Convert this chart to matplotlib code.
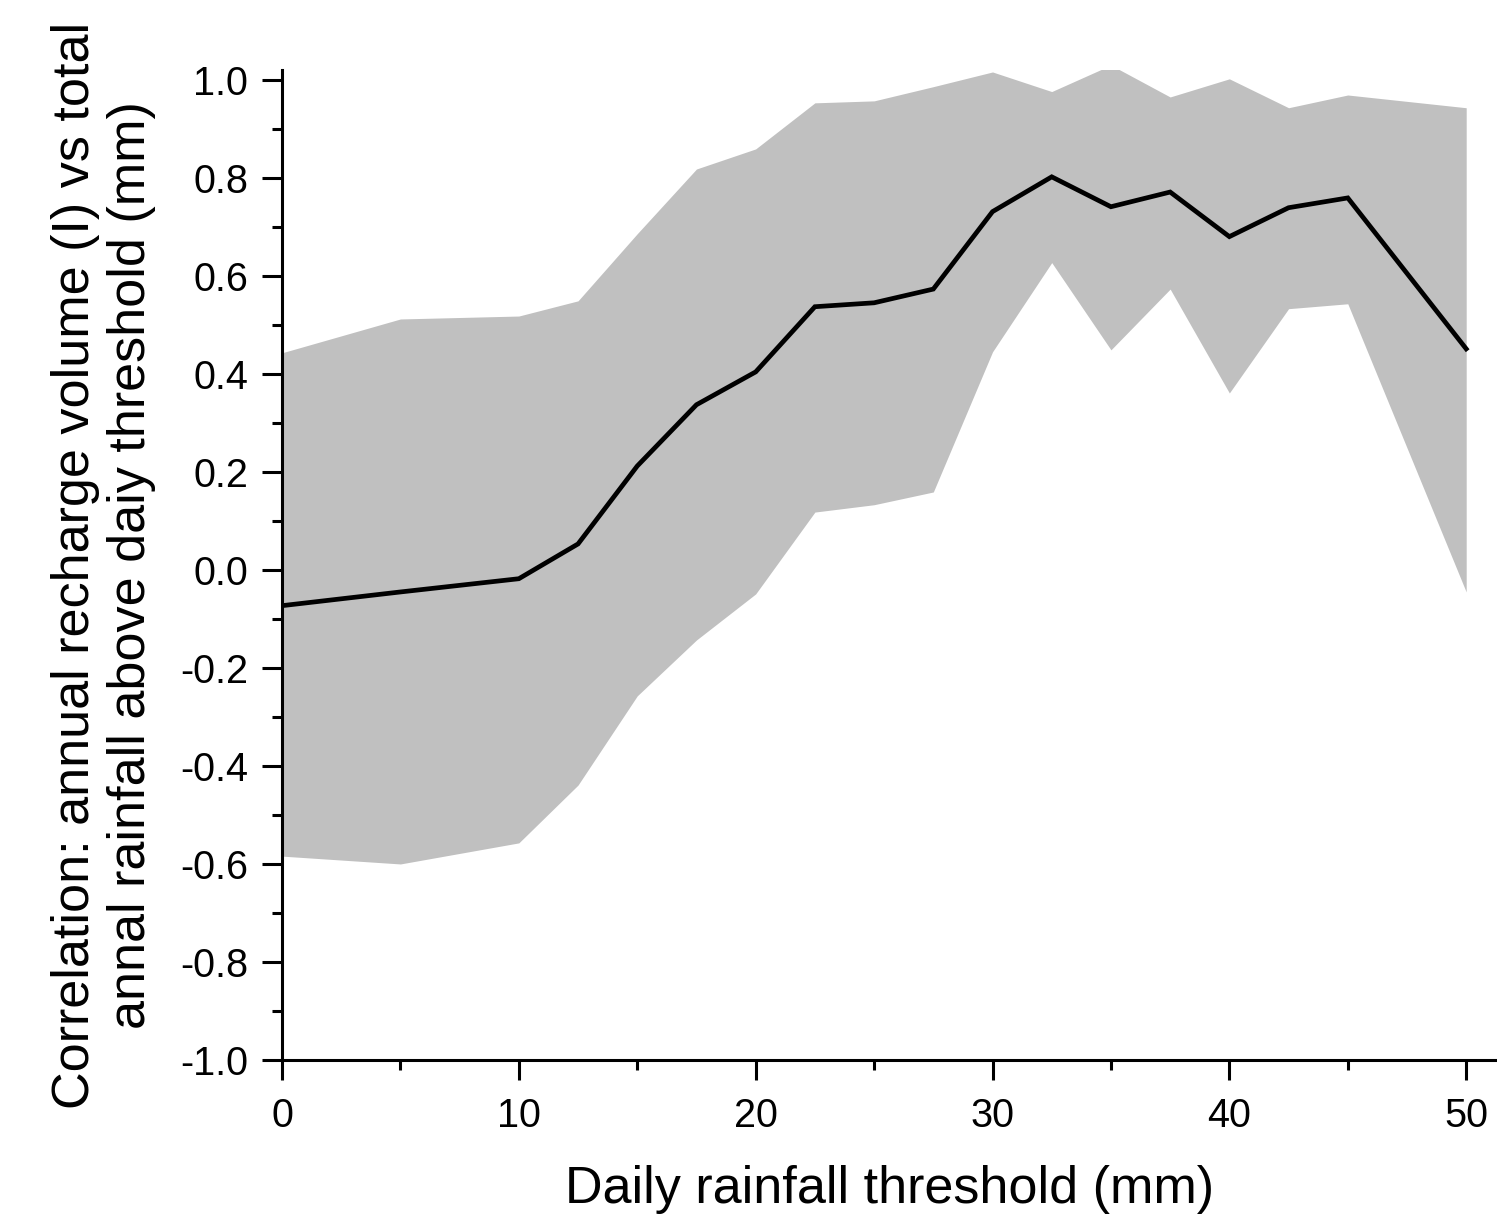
import numpy as np
import matplotlib
matplotlib.use("Agg")
import matplotlib.pyplot as plt
from matplotlib.ticker import MultipleLocator

plt.rcParams['font.family'] = ['Liberation Sans', 'DejaVu Sans']
plt.rcParams['axes.unicode_minus'] = False

# daily rainfall threshold (mm)
threshold = [0, 5, 10, 12.5, 15, 17.5, 20, 22.5, 25, 27.5, 30,
             32.5, 35, 37.5, 40, 42.5, 45, 50]
# mean correlation
corr_mean = [-0.073, -0.045, -0.018, 0.053, 0.212, 0.337, 0.404, 0.537, 0.545, 0.573, 0.731,
             0.802, 0.741, 0.771, 0.680, 0.739, 0.759, 0.451]
# upper / lower envelope
corr_upper = [0.443, 0.512, 0.518, 0.549, 0.686, 0.818, 0.859, 0.953, 0.957, 0.986, 1.016,
              0.976, 1.03, 0.965, 1.002, 0.943, 0.969, 0.943]
corr_lower = [-0.584, -0.600, -0.557, -0.439, -0.257, -0.143, -0.049, 0.118, 0.133, 0.159, 0.445,
              0.627, 0.449, 0.573, 0.361, 0.533, 0.543, -0.045]

fig = plt.figure(figsize=(14.97, 12.16), dpi=100)
ax = fig.add_axes([282/1497, 1 - 1060/1216, (1497 - 282)/1497, (1060 - 70)/1216])

ax.fill_between(threshold, corr_lower, corr_upper, color='#c0c0c0', linewidth=0)
ax.plot(threshold, corr_mean, color='black', lw=3.4, solid_joinstyle='miter')

ax.set_xlim(0, 51.3)
ax.set_ylim(-1.0, 1.02)
ax.xaxis.set_major_locator(MultipleLocator(10))
ax.xaxis.set_minor_locator(MultipleLocator(5))
ax.yaxis.set_major_locator(MultipleLocator(0.2))
ax.yaxis.set_minor_locator(MultipleLocator(0.1))
ax.yaxis.set_major_formatter(matplotlib.ticker.FormatStrFormatter('%.1f'))

for s in ['top', 'right']:
    ax.spines[s].set_visible(False)
for s in ['left', 'bottom']:
    ax.spines[s].set_linewidth(2.2)

ax.tick_params(which='major', direction='out', length=14.4, width=2.2, labelsize=28.5)
ax.tick_params(which='minor', direction='out', length=7.2, width=2.2)
ax.tick_params(axis='y', which='major', pad=10)
ax.tick_params(axis='x', which='major', pad=12)

ax.set_xlabel('Daily rainfall threshold (mm)', fontsize=37.5, labelpad=22)
ax.set_ylabel('Correlation: annual recharge volume (I) vs total\nannal rainfall above daiy threshold (mm)',
              fontsize=37.5, labelpad=17, linespacing=1.2)

fig.savefig('out.png', dpi=100)
